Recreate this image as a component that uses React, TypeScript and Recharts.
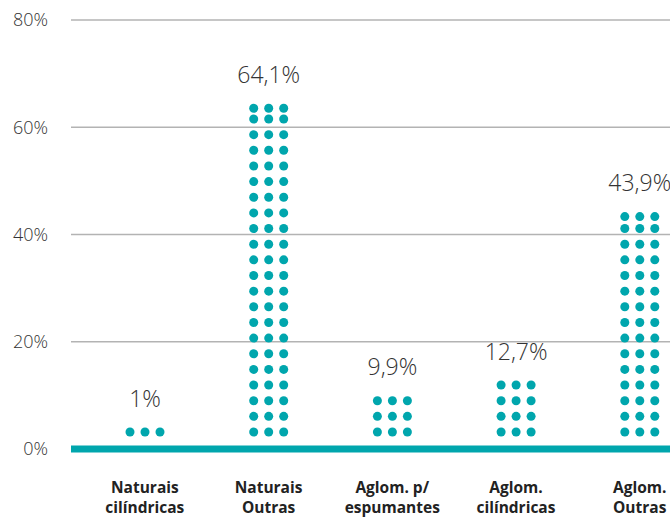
import React from 'react';
import { BarChart, Bar, XAxis, YAxis, CartesianGrid, LabelList } from 'recharts';

const categories = [
  'Naturais\ncilíndricas',
  'Naturais\nOutras',
  'Aglom. p/\nespumantes',
  'Aglom.\ncilíndricas',
  'Aglom.\nOutras',
];
const values = [1, 64.1, 9.9, 12.7, 43.9];
const yTicks = [0, 20, 40, 60, 80];

const data = categories.map((c, i) => ({ name: c, value: values[i] }));

const TEAL = '#00a6ad';
const ROW_STEP = 15.65;
const DOT_R = 4.5;
const FONT = '"Open Sans", "DejaVu Sans", sans-serif';

function dotRows(y: number, height: number): number[] {
  const base = y + height;
  const rows: number[] = [];
  for (let k = 0; k < 100; k++) {
    const yy = base - 17 - k * ROW_STEP;
    if (yy < y && k > 0) break;
    rows.push(yy);
    if (yy < y) break;
  }
  const topRow = y + 3;
  if (rows[rows.length - 1] - topRow > 6) rows.push(topRow);
  return rows;
}

const DotBar = (props: any) => {
  const { x, y, width, height } = props;
  if (x == null || y == null) return null;
  const cx = x + width / 2;
  const rows = dotRows(y, height);
  return (
    <g>
      {rows.flatMap((ry, r) =>
        [-15, 0, 15].map((dx, c) => (
          <circle key={`${r}-${c}`} cx={cx + dx} cy={ry} r={DOT_R} fill={TEAL} />
        ))
      )}
    </g>
  );
};

const ValueLabel = (props: any) => {
  const { x, y, width, height, value } = props;
  if (x == null || y == null) return null;
  const rows = dotRows(y, height);
  const top = Math.min(...rows) - DOT_R;
  return (
    <text
      x={x + width / 2}
      y={top - 21}
      textAnchor="middle"
      fontFamily={FONT}
      fontWeight={300}
      fontSize={23}
      fill="#333"
    >
      {String(value).replace('.', ',') + '%'}
    </text>
  );
};

const XTick = (props: any) => {
  const { x, y, payload } = props;
  const lines = String(payload.value).split('\n');
  return (
    <g transform={`translate(${x},${y})`}>
      <text
        x={0}
        y={44}
        textAnchor="middle"
        fontFamily={FONT}
        fontWeight={700}
        fontSize={15.5}
        fill="#222"
      >
        {lines.map((l, i) => (
          <tspan key={i} x={0} dy={i === 0 ? 0 : 20}>
            {l}
          </tspan>
        ))}
      </text>
    </g>
  );
};

export default function App() {
  return (
    <div
      style={{
        position: 'absolute',
        left: 0,
        top: 0,
        width: 670,
        height: 518,
        overflow: 'hidden',
        background: '#fff',
      }}
    >
      <BarChart
        width={710}
        height={518}
        data={data}
        margin={{ top: 20, right: 8.5, left: 0, bottom: 0 }}
      >
        <CartesianGrid vertical={false} stroke="#b3b3b3" strokeWidth={1.3} />
        <YAxis
          domain={[0, 80]}
          ticks={yTicks}
          width={71}
          axisLine={false}
          tickLine={false}
          tickSize={0}
          tickMargin={23}
          tickFormatter={(v: number) => `${v}%`}
          tick={{ fontFamily: FONT, fontSize: 18, fill: '#333', fontWeight: 300 }}
        />
        <XAxis
          dataKey="name"
          height={69}
          padding={{ left: 12, right: 0 }}
          axisLine={{ stroke: TEAL, strokeWidth: 7 }}
          tickLine={false}
          tickSize={0}
          tickMargin={0}
          interval={0}
          tick={<XTick />}
        />
        <Bar dataKey="value" barSize={40} shape={<DotBar />} isAnimationActive={false}>
          <LabelList dataKey="value" content={<ValueLabel />} />
        </Bar>
      </BarChart>
    </div>
  );
}
